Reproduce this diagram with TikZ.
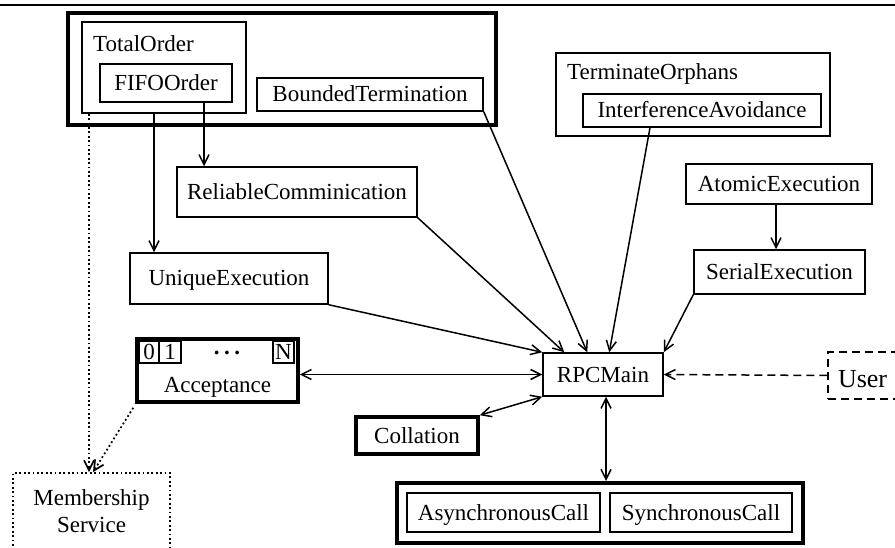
\documentclass[tikz,border=0pt]{standalone}
\usepackage{fontspec}
\setmainfont{Liberation Serif}
\usetikzlibrary{arrows.meta,calc}

\begin{document}
\begin{tikzpicture}[x=1pt,y=-1pt,
  font=\fontsize{23}{27}\selectfont,
  frame/.style={draw, rectangle, line width=1.5pt, inner sep=0pt},
  box/.style={frame, text height=16pt, text depth=1pt},
  thickbox/.style={box, line width=3.6pt},
  groupbox/.style={draw, rectangle, line width=4pt, inner sep=0pt},
  txt/.style={inner sep=0pt, text height=16pt, text depth=1pt},
  sz/.style 2 args={minimum width=#1, minimum height=#2},
  tip/.tip={Straight Barb[length=10pt,width=10pt]},
  arr/.style={line width=1.5pt, -tip},
  darr/.style={line width=1.5pt, tip-tip},
  dotline/.style={line width=1.7pt, dash pattern=on 1.8pt off 2.6pt},
  dashline/.style={dash pattern=on 8pt off 5pt}]

\useasboundingbox (0,0) rectangle (895,548);

% rule along the top edge
\draw[line width=2pt] (0,5) -- (895,5);

% ordering group
\node[groupbox, sz={428}{112}] (grpA) at (282,69) {};
\node[box, sz={164}{91}] (tord) at (164,67.5) {};
\node[anchor=base west, inner sep=0pt] (tordlabel) at (93,52) {TotalOrder};
\node[box, sz={132}{38}] (fifo) at (166,83) {FIFOOrder};
\node[box, sz={226}{33}] (bterm) at (370,94.5) {BoundedTermination};

% orphan handling
\node[box, sz={274}{83}] (torph) at (693,94.5) {};
\node[anchor=base west, inner sep=0pt] (torphlabel) at (567,80) {TerminateOrphans};
\node[box, sz={238}{33}] (iavoid) at (702,110.5) {InterferenceAvoidance};

% single micro-protocols
\node[box, sz={240}{50}] (rel) at (297,192) {ReliableComminication};
\node[box, sz={186}{40}] (atom) at (779,184) {AtomicExecution};
\node[box, sz={171}{44}] (serial) at (779.5,272) {SerialExecution};
\node[box, sz={198}{51}] (uniq) at (229,278.5) {UniqueExecution};

% acceptance with its slots
\node[thickbox, sz={161}{63}] (acc) at (217.5,370.5) {};
\node[box, sz={20}{22}] (c0) at (149,352) {0};
\node[box, sz={22}{22}] (c1) at (170,352) {1};
\node[box, sz={21}{22}] (cN) at (283.5,352) {N};
\node[inner sep=0pt] (cdots) at (227,353) {\textbf{.\hspace{4.5pt}.\hspace{4.5pt}.}};
\node[txt] (acclabel) at (217.5,384.5) {Acceptance};

% core
\node[box, sz={120}{43}] (rpc) at (603,374.5) {RPCMain};
\node[box, dashline, sz={90}{47}, text width=70pt, align=left, text height=24pt, text depth=1pt]
  (user) at (873,375.5) {\fontsize{26}{30}\selectfont User};
\node[frame, dotline, sz={157}{77}, align=center] (mem) at (91.5,511.5) {Membership\\Service};
\node[thickbox, sz={122}{37}] (coll) at (417,435.5) {Collation};

% call group
\node[groupbox, sz={406}{60}] (grpB) at (600,513) {};
\node[box, sz={193}{39}] (async) at (503.5,512.5) {AsynchronousCall};
\node[box, sz={182}{39}] (sync) at (701,512.5) {SynchronousCall};

% dependencies
\draw[arr] ([xshift=-10]tord.south) -- ([xshift=-10]tord.south |- uniq.north);
\draw[arr] ([xshift=38]fifo.south) -- ([xshift=38]fifo.south |- rel.north);
\draw[arr, dotline] ([xshift=-75]tord.south) -- ([xshift=-2.5]mem.north);
\draw[arr, dotline] ([shift={(-2,4)}]acc.south west) -- ([xshift=1.5]mem.north);
\draw[arr] (uniq.south east) -- (rpc.north west);
\draw[arr] (rel.south east) -- ([xshift=22]rpc.north west);
\draw[arr] (bterm.south east) -- ([xshift=45]rpc.north west);
\draw[arr] ([xshift=-52]iavoid.south) -- ([xshift=67]rpc.north west);
\draw[arr] (serial.south west) -- (rpc.north east);
\draw[arr] ([xshift=-3]atom.south) -- ([xshift=-3]atom.south |- serial.north);
\draw[darr] (acc.east |- rpc.west) -- (rpc.west);
\draw[darr] (coll.north east) -- (rpc.south west);
\draw[darr] ([xshift=3]rpc.south) -- ([xshift=3]rpc.south |- grpB.north);
\draw[arr, dashline] (user.west) -- (rpc.east);

\end{tikzpicture}
\end{document}
